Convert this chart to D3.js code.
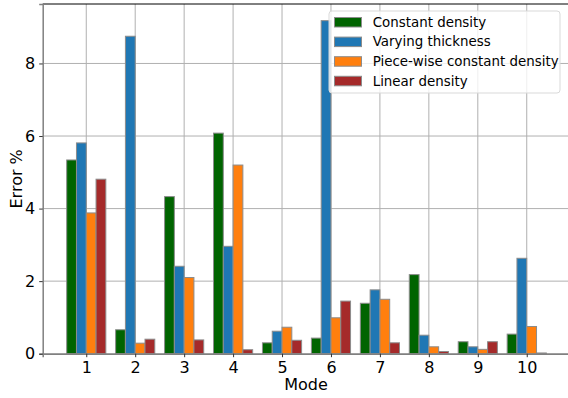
<!DOCTYPE html>
<html>
<head>
<meta charset="utf-8">
<script src="https://cdn.jsdelivr.net/npm/d3@7"></script>
<style>
  body { margin: 0; background: #fff; }
  text { font-family: "DejaVu Sans", sans-serif; }
</style>
</head>
<body>
<svg id="chart" width="568" height="398"></svg>
<script>
const modes = [1, 2, 3, 4, 5, 6, 7, 8, 9, 10];
const seriesNames = ["Constant density", "Varying thickness", "Piece-wise constant density", "Linear density"];
const constantDensity = [5.34, 0.66, 4.33, 6.08, 0.30, 0.43, 1.39, 2.18, 0.33, 0.54];
const varyingThickness = [5.81, 8.75, 2.41, 2.96, 0.62, 9.18, 1.76, 0.51, 0.19, 2.63];
const piecewiseDensity = [3.88, 0.29, 2.10, 5.20, 0.73, 0.99, 1.50, 0.19, 0.12, 0.75];
const linearDensity = [4.81, 0.40, 0.38, 0.11, 0.37, 1.45, 0.30, 0.06, 0.33, 0.02];
const yTicks = [0, 2, 4, 6, 8];
const colors = ["#006400", "#1f77b4", "#ff7f0e", "#a52a2a"];

const series = [constantDensity, varyingThickness, piecewiseDensity, linearDensity];
const barW = 0.2;

const svg = d3.select("#chart");
const plotL = 42.7, plotR = 570.3, plotT = 4, plotB = 353.7;

// matplotlib-like 5% margins
const xmin = 1 - 0.4, xmax = 10 + 0.4, xpad = (xmax - xmin) * 0.05;
const x = d3.scaleLinear().domain([xmin - xpad, xmax + xpad]).range([plotL, plotR]);
const ymax = d3.max(series.flat()) * 1.05;
const y = d3.scaleLinear().domain([0, ymax]).range([plotB, plotT]);

// grid
const grid = svg.append("g").attr("stroke", "#b0b0b0").attr("stroke-width", 1);
grid.selectAll("line.v").data(modes).enter().append("line")
  .attr("x1", d => x(d)).attr("x2", d => x(d))
  .attr("y1", plotT).attr("y2", plotB);
grid.selectAll("line.h").data(yTicks).enter().append("line")
  .attr("x1", plotL).attr("x2", plotR)
  .attr("y1", d => y(d)).attr("y2", d => y(d));

// bars
series.forEach((vals, i) => {
  const off = (i - 1.5) * barW;
  svg.append("g").selectAll("rect").data(vals).enter().append("rect")
    .attr("x", (d, j) => x(modes[j] + off - barW / 2))
    .attr("width", x(barW) - x(0))
    .attr("y", d => y(d))
    .attr("height", d => y(0) - y(d))
    .attr("fill", colors[i])
    .attr("stroke", "#8c8c8c")
    .attr("stroke-width", 1);
});

// spines
svg.append("line").attr("x1", plotL).attr("x2", plotR).attr("y1", plotT).attr("y2", plotT)
  .attr("stroke", "#000").attr("stroke-width", 1);

const xAxis = svg.append("g").attr("transform", `translate(0,${plotB})`)
  .call(d3.axisBottom(x).tickValues(modes).tickSize(3.5).tickPadding(4));
const yAxis = svg.append("g").attr("transform", `translate(${plotL},0)`)
  .call(d3.axisLeft(y).tickValues(yTicks).tickSize(3.5).tickPadding(4));
[xAxis, yAxis].forEach(a => {
  a.select(".domain").attr("stroke", "#808080").attr("stroke-width", 1.5);
  a.selectAll(".tick line").attr("stroke", "#333");
  a.selectAll(".tick text").attr("font-size", 16).attr("fill", "#000")
    .attr("font-family", "DejaVu Sans, sans-serif");
});

// axis labels
svg.append("text").attr("x", (plotL + plotR) / 2 - 0.5).attr("y", 390)
  .attr("text-anchor", "middle").attr("font-size", 16).text("Mode");
svg.append("text").attr("transform", `translate(21.5,${(plotT + plotB) / 2}) rotate(-90)`)
  .attr("text-anchor", "middle").attr("font-size", 16).text("Error %");

// legend
const lg = svg.append("g").attr("transform", "translate(329,11)");
lg.append("rect").attr("width", 231).attr("height", 82).attr("rx", 3)
  .attr("fill", "#fff").attr("fill-opacity", 0.8)
  .attr("stroke", "#d9d9d9");
const item = lg.selectAll("g.item").data(seriesNames).enter().append("g")
  .attr("transform", (d, i) => `translate(0,${11 + i * 19.6})`);
item.append("rect").attr("x", 5.5).attr("y", -4.5).attr("width", 27).attr("height", 9.5)
  .attr("fill", (d, i) => colors[i]).attr("stroke", "#8c8c8c");
item.append("text").attr("x", 43.7).attr("y", 4.8).attr("font-size", 13.4).text(d => d);
</script>
</body>
</html>
